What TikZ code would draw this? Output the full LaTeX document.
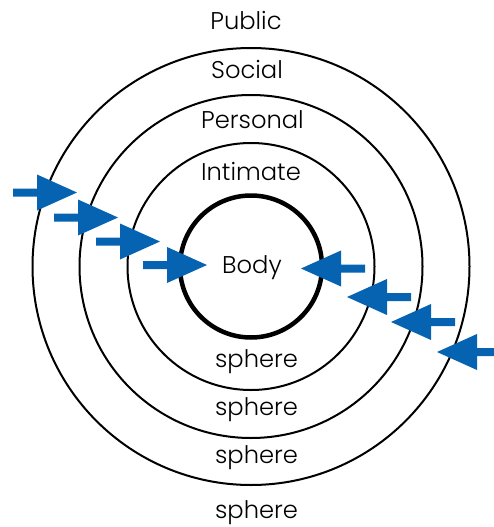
\documentclass[tikz,border=0pt]{standalone}
\usepackage{fontspec}
\setmainfont{Poppins Light}
\begin{document}
\begin{tikzpicture}[x=1pt,y=-1pt,
  ring/.style={draw=black,line width=2pt},
  bodyring/.style={draw=black,line width=4.5pt},
  lbl/.style={anchor=base,inner sep=0pt,font=\fontsize{24.2}{27}\selectfont},
  rarrow/.pic={\fill[arrowblue] (-64,-4) -- (-40,-4) -- (-40,-18) -- (0,0) -- (-40,18) -- (-40,4) -- (-64,4) -- cycle;}
]
\definecolor{arrowblue}{RGB}{5,99,177}
\useasboundingbox (0,0) rectangle (494,527);
\coordinate (c) at (251,266.5);
\draw[ring] (c) circle[radius=218.5];
\draw[ring] (c) circle[radius=171.5];
\draw[ring] (c) circle[radius=123.5];
\draw[bodyring] (c) circle[radius=71];
\node[lbl] (public) at (246,30) {Public};
\node[lbl] (social) at (247,78) {Social};
\node[lbl] (personal) at (252.5,128) {Personal};
\node[lbl] (intimate) at (251,180) {Intimate};
\node[lbl] (body) at (252,273) {Body};
\node[lbl] (s1) at (256.5,367) {sphere};
\node[lbl] (s2) at (256.5,415) {sphere};
\node[lbl] (s3) at (256.5,463) {sphere};
\node[lbl] (s4) at (256.5,518) {sphere};
\coordinate (l1) at (77,192.5);
\coordinate (l2) at (118,217.5);
\coordinate (l3) at (160,241.5);
\coordinate (l4) at (207,265);
\coordinate (r1) at (301,268.5);
\coordinate (r2) at (347,297);
\coordinate (r3) at (391,322);
\coordinate (r4) at (437,352);
\foreach \p in {l1,l2,l3,l4} \pic at (\p) {rarrow};
\foreach \p in {r1,r2,r3,r4} \pic[rotate=180] at (\p) {rarrow};
\end{tikzpicture}
\end{document}
